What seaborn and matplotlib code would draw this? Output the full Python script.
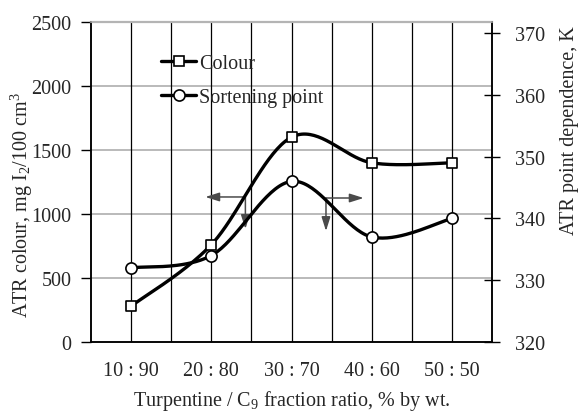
import numpy as np
import pandas as pd
import matplotlib
matplotlib.use("Agg")
import matplotlib.pyplot as plt
import seaborn as sns
from matplotlib.lines import Line2D

# ---- data ----
categories = ["10 : 90", "20 : 80", "30 : 70", "40 : 60", "50 : 50"]
colour_vals = [280, 760, 1600, 1400, 1400]          # mg I2/100 cm3 (left axis)
soft_point_vals = [332, 334, 346, 337, 340]          # K (right axis)
left_ticks = [0, 500, 1000, 1500, 2000, 2500]
right_ticks = [320, 330, 340, 350, 360, 370]
# annotation arrows: (corner_x, corner_y, horiz_end_x, vert_end_y) in left-axis data
arrows = [(1.425, 1133, 0.925, 883), (2.43, 1125, 2.9, 867)]

sns.set_theme(style="white")
plt.rcParams["font.family"] = ["Liberation Serif", "DejaVu Serif"]
plt.rcParams["mathtext.fontset"] = "custom"
plt.rcParams["mathtext.rm"] = "Liberation Serif"
plt.rcParams["mathtext.it"] = "Liberation Serif:italic"
FS = 14.5


def smooth(xs, ys, n=40):
    """Excel-style smoothed line (Catmull-Rom Bezier)."""
    P = np.column_stack([xs, ys]).astype(float)
    P = np.vstack([P[0], P, P[-1]])
    out = []
    t = np.linspace(0, 1, n)[:, None]
    for i in range(1, len(P) - 2):
        p0, p1, p2, p3 = P[i - 1], P[i], P[i + 1], P[i + 2]
        b1 = p1 + (p2 - p0) / 6
        b2 = p2 - (p3 - p1) / 6
        seg = ((1 - t) ** 3) * p1 + 3 * ((1 - t) ** 2) * t * b1 + 3 * (1 - t) * t ** 2 * b2 + t ** 3 * p2
        out.append(seg if i == 1 else seg[1:])
    return np.vstack(out)


fig = plt.figure(figsize=(5.78, 4.14), dpi=100)
ax = fig.add_axes([91 / 578, 1 - 343 / 414, (492 - 91) / 578, (343 - 23) / 414])
ax2 = ax.twinx()

xpos = np.arange(len(categories))

# colour curve (left)
sc = smooth(xpos, colour_vals)
df_c = pd.DataFrame({"x": sc[:, 0], "y": sc[:, 1]})
sns.lineplot(data=df_c, x="x", y="y", ax=ax, sort=False, color="black", lw=2.4, zorder=4)
sns.scatterplot(x=xpos, y=colour_vals, ax=ax, marker="s", s=60, facecolor="white",
                edgecolor="black", linewidth=1.2, zorder=5)

# softening point curve (right)
ss = smooth(xpos, soft_point_vals)
df_s = pd.DataFrame({"x": ss[:, 0], "y": ss[:, 1]})
sns.lineplot(data=df_s, x="x", y="y", ax=ax2, sort=False, color="black", lw=2.4, zorder=4)
sns.scatterplot(x=xpos, y=soft_point_vals, ax=ax2, marker="o", s=65, facecolor="white",
                edgecolor="black", linewidth=1.2, zorder=5)

# axes setup
ax.set_xlim(-0.5, len(categories) - 0.5)
ax.set_ylim(0, 2500)
ax2.set_ylim(320, 371.8)
ax.set_xticks(xpos)
ax.set_xticklabels(categories, fontsize=FS)
ax.set_xticks(np.arange(-0.5, len(categories), 1.0), minor=True)
ax.tick_params(axis="x", which="major", length=0, pad=14)
ax.tick_params(axis="x", which="minor", length=6, width=1, direction="out", color="black")
ax.set_yticks(left_ticks)
ax.set_yticklabels([str(v) for v in left_ticks], fontsize=FS)
ax.tick_params(axis="y", length=7, width=1, direction="out", color="black", pad=7, left=True)
ax2.set_yticks(right_ticks)
ax2.set_yticklabels([str(v) for v in right_ticks], fontsize=FS)
ax2.tick_params(axis="y", length=11, width=1, direction="inout", color="black", pad=11, right=True)

ax.grid(False)
ax2.grid(False)
for v in left_ticks[1:-1]:
    ax.axhline(v, color="#b4b4b4", lw=1.3, zorder=1)
for v in np.arange(0.5, len(categories) - 1, 1.0):
    ax.axvline(v, color="black", lw=0.9, zorder=1)
for v in xpos:
    ax.axvline(v, color="black", lw=0.9, zorder=1)

for a in (ax, ax2):
    a.spines["left"].set_color("black")
    a.spines["right"].set_color("black")
    a.spines["bottom"].set_color("black")
    a.spines["top"].set_color("#b4b4b4")
    for s in a.spines.values():
        s.set_linewidth(1.1)
ax.spines["top"].set_linewidth(1.6)

ax.set_xlabel("Turpentine / C$_9$ fraction ratio, % by wt.", fontsize=FS)
ax.xaxis.set_label_coords(0.5, -0.145)
ax.set_ylabel("ATR colour, mg I$_2$/100 cm$^3$", fontsize=FS)
ax.yaxis.set_label_coords(-0.14, 0.43)
ax2.set_ylabel("ATR point dependence, K", fontsize=FS)
ax2.yaxis.set_label_coords(1.17, 0.665)

# arrows
for cx, cy, hx, vy in arrows:
    props = dict(arrowstyle="-|>,head_length=0.7,head_width=0.22", color="#4a4a4a", lw=1.1,
                 shrinkA=0, shrinkB=0)
    ax.annotate("", xy=(hx, cy), xytext=(cx, cy), arrowprops=props, zorder=3)
    ax.annotate("", xy=(cx, vy), xytext=(cx, cy), arrowprops=props, zorder=3)

# legend
handles = [
    Line2D([], [], color="black", lw=2.4, marker="s", markersize=7.5, markerfacecolor="white",
           markeredgecolor="black", markeredgewidth=1.2),
    Line2D([], [], color="black", lw=2.4, marker="o", markersize=8, markerfacecolor="white",
           markeredgecolor="black", markeredgewidth=1.2),
]
leg = ax2.legend(handles, ["Colour", "Sortening point"], loc="upper left",
                 bbox_to_anchor=(0.155, 0.925), frameon=False, fontsize=FS,
                 handlelength=1.75, handletextpad=0.15, labelspacing=0.75, borderaxespad=0)

fig.savefig("out.png", dpi=100)
